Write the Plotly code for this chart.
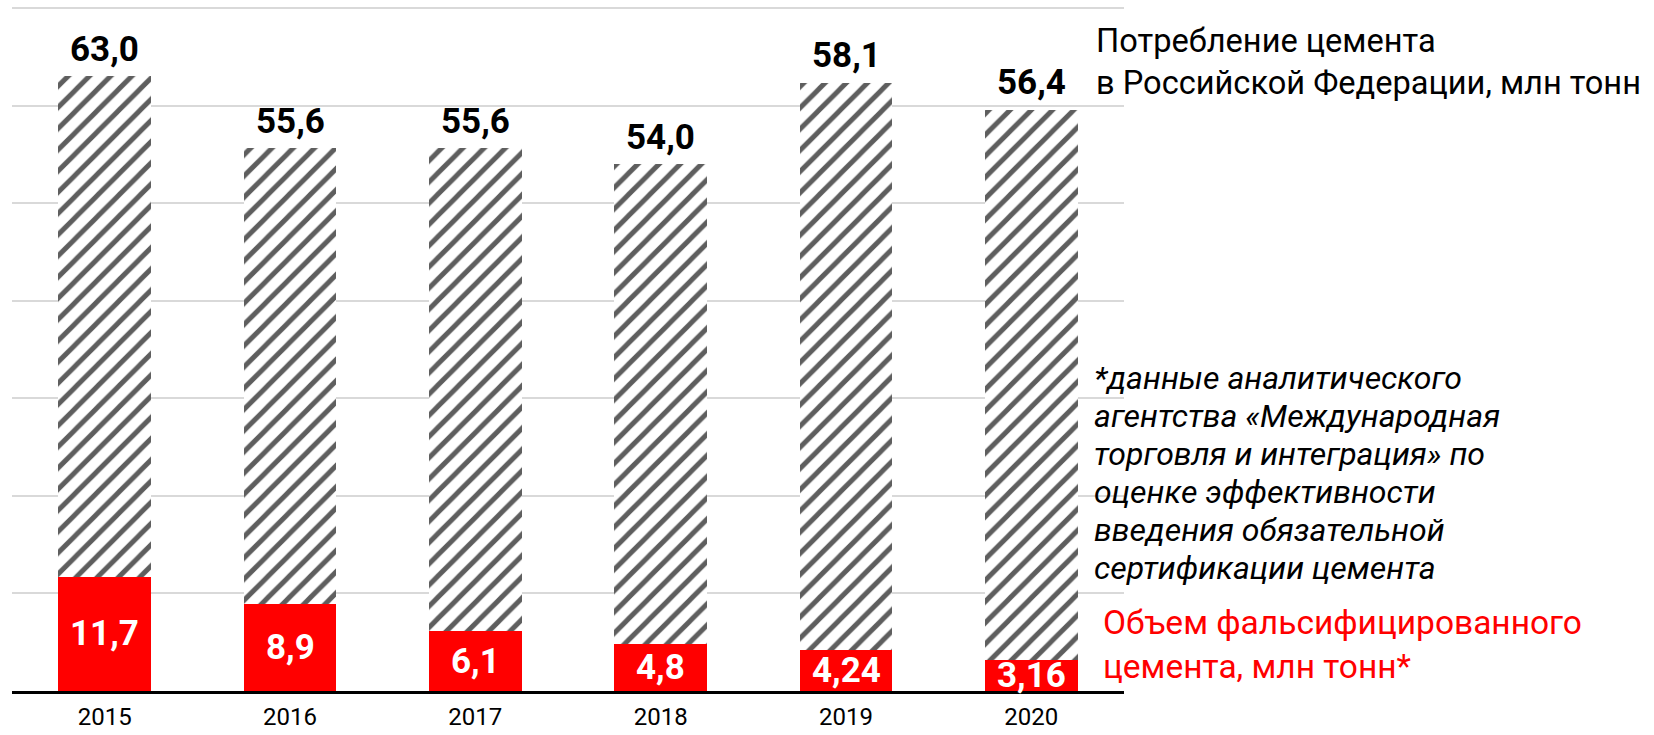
import plotly.graph_objects as go

# ---- data ----
years = ["2015", "2016", "2017", "2018", "2019", "2020"]
falsified = [11.7, 8.9, 6.1, 4.8, 4.24, 3.16]            # red bars (labels)
falsified_text = ["11,7", "8,9", "6,1", "4,8", "4,24", "3,16"]
consumption = [63.0, 55.6, 55.6, 54.0, 58.1, 56.4]       # labels above bars
consumption_text = ["63,0", "55,6", "55,6", "54,0", "58,1", "56,4"]
# hatched segment height as drawn on top of the red bar
hatch_segment = [51.3, 46.7, 49.5, 49.2, 58.1, 56.4]

title_lines = ["Потребление цемента", "в Российской Федерации, млн тонн"]
note_lines = ["*данные аналитического", "агентства «Международная",
              "торговля и интеграция» по", "оценке эффективности",
              "введения обязательной", "сертификации цемента"]
red_lines = ["Объем фальсифицированного", "цемента, млн тонн*"]

# ---- layout geometry (pixels) ----
W, H = 1654, 735
L, R, T, B = 12, 530, 5, 44
plot_w = W - L - R
plot_h = H - T - B
FONT = "Roboto"


def px_x(px):
    return (px - L) / plot_w


def px_y(py):
    return (H - B - py) / plot_h


fig = go.Figure()
fig.add_trace(go.Bar(
    x=years, y=falsified, marker=dict(color="#FF0000", line=dict(width=0)),
    width=0.5, hoverinfo="skip", showlegend=False))
fig.add_trace(go.Bar(
    x=years, y=hatch_segment,
    marker=dict(color="white", line=dict(width=0),
                pattern=dict(shape="/", fgcolor="#5e5e5e", bgcolor="white",
                             size=15, solidity=0.33, fillmode="replace")),
    width=0.5, hoverinfo="skip", showlegend=False))

annotations = []
for i, (f, ft, seg, ct) in enumerate(zip(falsified, falsified_text, hatch_segment, consumption_text)):
    annotations.append(dict(x=i, y=f + seg, xref="x", yref="y", text=f"<b>{ct}</b>",
                            showarrow=False, yanchor="middle", yshift=27,
                            font=dict(family=FONT, size=35, color="black")))
    annotations.append(dict(x=i, y=f / 2, xref="x", yref="y", text=f"<b>{ft}</b>",
                            showarrow=False, yanchor="middle",
                            font=dict(family=FONT, size=35, color="white")))

for i, line in enumerate(title_lines):
    annotations.append(dict(x=px_x(1094), y=px_y(41 + 42 * i), xref="paper", yref="paper",
                            text=line, showarrow=False, xanchor="left", yanchor="middle",
                            font=dict(family=FONT, size=32.6, color="black")))
for i, line in enumerate(note_lines):
    annotations.append(dict(x=px_x(1092), y=px_y(378 + 38 * i), xref="paper", yref="paper",
                            text=f"<i>{line}</i>", showarrow=False, xanchor="left", yanchor="middle",
                            font=dict(family=FONT, size=32, color="black")))
for i, line in enumerate(red_lines):
    annotations.append(dict(x=px_x(1101), y=px_y(622 + 44 * i), xref="paper", yref="paper",
                            text=line, showarrow=False, xanchor="left", yanchor="middle",
                            font=dict(family=FONT, size=33.5, color="#FF0000")))

fig.update_layout(
    width=W, height=H,
    margin=dict(l=L, r=R, t=T, b=B, autoexpand=False),
    barmode="stack",
    plot_bgcolor="white", paper_bgcolor="white",
    annotations=annotations,
    xaxis=dict(type="category", range=[-0.5, 5.5], showgrid=False, showline=True,
               linecolor="black", linewidth=3, ticks="", ticklabelstandoff=2,
               tickfont=dict(family=FONT, size=24, color="black"), automargin=False),
    yaxis=dict(range=[0, 70.3], tick0=0, dtick=10, showgrid=True, gridcolor="#d9d9d9",
               gridwidth=2, showticklabels=False, zeroline=False, ticks="",
               automargin=False),
)

fig.write_html("out.html", config={"displayModeBar": False},
               post_script="document.body.style.margin='0';document.body.style.overflow='hidden';")
